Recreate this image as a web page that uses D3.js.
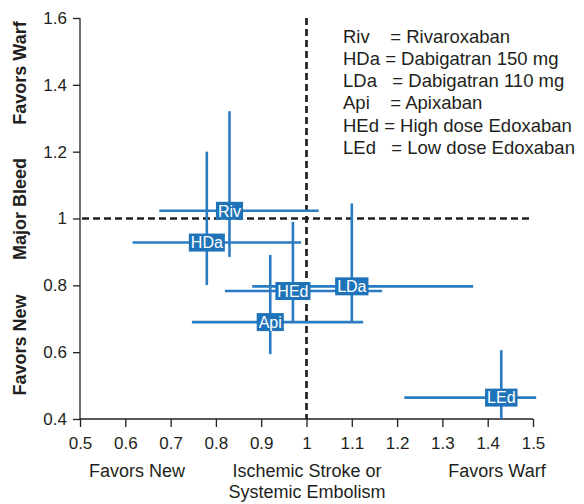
<!DOCTYPE html>
<html>
<head>
<meta charset="utf-8">
<script src="https://cdn.jsdelivr.net/npm/d3@7"></script>
<style>
  body { margin: 0; background: #fff; }
  text { font-family: "Liberation Sans", Arial, sans-serif; fill: #231f20; }
</style>
</head>
<body>
<div id="chart"></div>
<script>
// trials: stroke/SE ratio (x) vs major bleed ratio (y), with intervals
var drugs   = ['Riv', 'HDa', 'LDa', 'Api', 'HEd', 'LEd'];
var xMid    = [0.83, 0.78, 1.10, 0.92, 0.97, 1.43];
var xLow    = [0.675, 0.616, 0.88, 0.747, 0.82, 1.216];
var xHigh   = [1.027, 0.988, 1.368, 1.125, 1.167, 1.507];
var yMid    = [1.023, 0.928, 0.797, 0.690, 0.783, 0.464];
var yLow    = [0.885, 0.801, 0.690, 0.594, 0.688, 0.40];
var yHigh   = [1.321, 1.200, 1.045, 0.891, 0.990, 0.606];
var legendText = ['Riv    = Rivaroxaban', 'HDa = Dabigatran 150 mg', 'LDa   = Dabigatran 110 mg',
                  'Api    = Apixaban', 'HEd = High dose Edoxaban', 'LEd   = Low dose Edoxaban'];
var xTicks = [0.5, 0.6, 0.7, 0.8, 0.9, 1, 1.1, 1.2, 1.3, 1.4, 1.5];
var yTicks = [0.4, 0.6, 0.8, 1, 1.2, 1.4, 1.6];
var yTitles = ['Favors New', 'Major Bleed', 'Favors Warf'];

var data = drugs.map(function(d, i) {
  return {name: d, x: xMid[i], x0: xLow[i], x1: xHigh[i], y: yMid[i], y0: yLow[i], y1: yHigh[i]};
});

var W = 584, H = 504;
var margin = {top: 18, right: 51, bottom: 85, left: 80},
    width = W - margin.left - margin.right,
    height = H - margin.top - margin.bottom;
var blue = "#2a7bc1", boxBlue = "#1f73b8";

var svg = d3.select("#chart").append("svg")
    .attr("width", W).attr("height", H)
  .append("g")
    .attr("transform", "translate(" + margin.left + "," + margin.top + ")");

var x = d3.scaleLinear().domain([0.5, 1.5]).range([0, width]);
var y = d3.scaleLinear().domain([0.4, 1.6]).range([height, 0]);

// axes
var xAxis = svg.append("g")
    .attr("transform", "translate(0," + height + ")")
    .call(d3.axisBottom(x).tickValues(xTicks).tickSize(8).tickPadding(10).tickFormat(d3.format("")));
var yAxis = svg.append("g")
    .call(d3.axisLeft(y).tickValues(yTicks).tickSize(7).tickPadding(6).tickFormat(d3.format("")));
[xAxis, yAxis].forEach(function(a) {
  a.select(".domain").attr("stroke", "#231f20").attr("stroke-width", 1.3);
  a.selectAll(".tick line").attr("stroke", "#231f20").attr("stroke-width", 1.3);
  a.selectAll("text").style("font-family", "Liberation Sans, Arial, sans-serif")
    .style("font-size", "17px").attr("fill", "#231f20");
});
xAxis.select(".domain").attr("d", "M0,0H" + width);
yAxis.select(".domain").attr("d", "M0," + height + "V0");

// reference lines at 1
svg.append("line")
    .attr("x1", x(1)).attr("x2", x(1)).attr("y1", 0).attr("y2", height)
    .attr("stroke", "#231f20").attr("stroke-width", 2.7).attr("stroke-dasharray", "7,4");
svg.append("line")
    .attr("x1", 2).attr("x2", x(1.5)).attr("y1", y(1)).attr("y2", y(1))
    .attr("stroke", "#231f20").attr("stroke-width", 2.7).attr("stroke-dasharray", "7,4");

// error bars
var g = svg.append("g");
g.selectAll(".hbar").data(data).enter().append("line")
    .attr("x1", function(d) { return x(d.x0); })
    .attr("x2", function(d) { return x(d.x1); })
    .attr("y1", function(d) { return y(d.y); })
    .attr("y2", function(d) { return y(d.y); })
    .attr("stroke", blue).attr("stroke-width", 2.6);
g.selectAll(".vbar").data(data).enter().append("line")
    .attr("x1", function(d) { return x(d.x); })
    .attr("x2", function(d) { return x(d.x); })
    .attr("y1", function(d) { return y(d.y0); })
    .attr("y2", function(d) { return y(d.y1); })
    .attr("stroke", blue).attr("stroke-width", 2.6);

// labels
var lab = g.selectAll(".lab").data(data).enter().append("g")
    .attr("transform", function(d) { return "translate(" + x(d.x) + "," + y(d.y) + ")"; });
lab.append("text")
    .attr("text-anchor", "middle").attr("dy", "0.36em")
    .style("font-size", "16px").style("fill", "#fff")
    .text(function(d) { return d.name; });
lab.each(function() {
  var t = d3.select(this).select("text");
  var w = t.node().getComputedTextLength();
  d3.select(this).insert("rect", "text")
    .attr("x", -w / 2 - 2).attr("y", -9).attr("width", w + 4).attr("height", 18)
    .attr("fill", boxBlue);
});

// legend
svg.append("g").selectAll("text").data(legendText).enter().append("text")
    .attr("x", 263).attr("y", function(d, i) { return 24.5 + i * 22.3; })
    .style("font-size", "18.5px").style("white-space", "pre")
    .text(function(d) { return d; });

// axis titles
var bt = svg.append("g").style("font-size", "18px").attr("text-anchor", "middle");
bt.append("text").attr("x", 57).attr("y", height + 58).text("Favors New");
bt.append("text").attr("x", 227).attr("y", height + 58).text("Ischemic Stroke or");
bt.append("text").attr("x", 227).attr("y", height + 79).text("Systemic Embolism");
bt.append("text").attr("x", 417).attr("y", height + 58).text("Favors Warf");

yTitles.forEach(function(t, i) {
  svg.append("text")
    .attr("transform", "translate(" + (-54) + "," + (327 - i * 136) + ") rotate(-90)")
    .attr("text-anchor", "middle")
    .style("font-size", "18px").style("font-weight", "bold")
    .text(t);
});
</script>
</body>
</html>
